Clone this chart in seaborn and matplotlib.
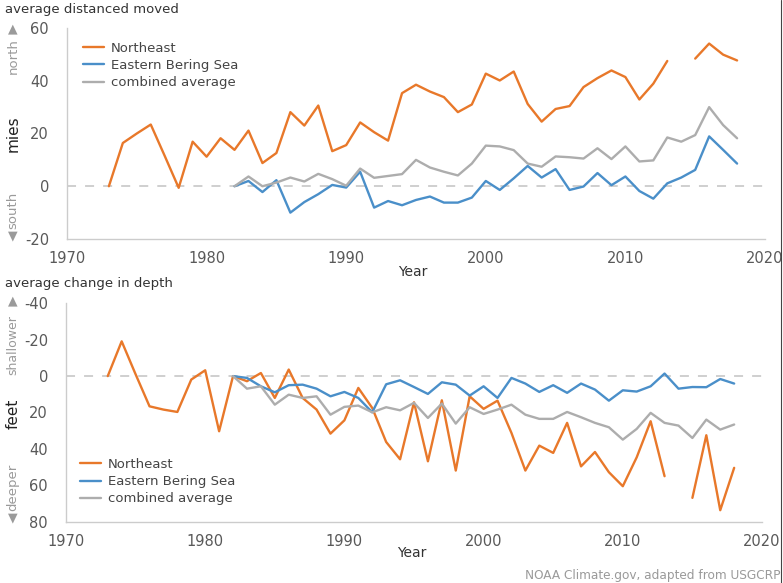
import numpy as np
import pandas as pd
import matplotlib.pyplot as plt
import seaborn as sns
from matplotlib.ticker import MultipleLocator
from matplotlib.lines import Line2D

# Datos (millas y pies por año)
years_ne = list(range(1973, 2019))
years_ebs = list(range(1982, 2019))

ne_dist = [0, 16.4, 20, 23.4, 11.5, -0.6, 16.9, 11.2, 18.2, 13.8,
           21.1, 8.8, 12.6, 28.1, 23, 30.6, 13.3, 15.6, 24.2, 20.5,
           17.3, 35.3, 38.5, 35.9, 33.8, 28.1, 31, 42.7, 40.1, 43.5,
           31.2, 24.5, 29.3, 30.4, 37.6, 41, 43.9, 41.4, 32.9, 38.9,
           47.5, np.nan, 48.4, 54.1, 49.9, 47.7]
ebs_dist = [0, 2.0, -2.2, 2.3, -10, -6, -3, 0.5, -0.5, 5.5,
            -8.1, -5.6, -7.2, -5.2, -3.9, -6.2, -6.2, -4.3, 2.0, -1.4,
            3, 7.7, 3.3, 6.5, -1.4, -0.1, 5, 0.4, 3.7, -1.8,
            -4.7, 1.1, 3.3, 6.2, 18.9, 13.8, 8.6]
comb_dist = [0, 3.7, 0, 1.4, 3.3, 1.8, 4.7, 2.7, 0.2, 6.7,
             3.2, 3.9, 4.6, 10, 7.1, 5.5, 4.1, 8.6, 15.4, 15.1,
             13.7, 8.6, 7.4, 11.3, 11.0, 10.5, 14.4, 10.3, 15.1, 9.4,
             9.8, 18.5, 16.9, 19.4, 30, 23.2, 18.2]

ne_depth = [0, -19.1, -1, 16.6, 18.4, 19.7, 1.9, -3.2, 30.3, 0,
            2.8, -1.7, 12, -3.6, 12, 18.4, 31.6, 24.3, 6.5, 17.5,
            36.2, 45.7, 14.4, 46.8, 13.3, 51.9, 11.1, 18, 13.5, 31.2,
            51.9, 38.2, 42.2, 25.7, 49.6, 41.7, 52.8, 60.5, 44.6, 24.8,
            55, np.nan, 66.9, 32.5, 73.7, 50.4]
ebs_depth = [0, 1.0, 5.6, 8.9, 5, 4.7, 6.9, 11.1, 8.7, 12,
             19.9, 4.5, 2.3, 6.0, 9.8, 3.4, 4.7, 10.7, 5.6, 12,
             1, 4.1, 8.7, 5, 9.2, 4.1, 7.4, 13.5, 7.8, 8.5,
             5.6, -1.4, 6.9, 6, 6.1, 1.6, 4.1]
comb_depth = [0, 6.9, 5.6, 15.7, 10.2, 12, 11.1, 21.2, 16.9, 16.2,
              19.9, 17.1, 18.8, 14.7, 23, 15.1, 26.1, 17.1, 20.8, 18.4,
              15.7, 21.2, 23.5, 23.5, 19.7, 22.6, 25.7, 28.1, 34.9, 29,
              20.2, 25.7, 27.2, 34, 23.9, 29.4, 26.6]

series_names = ["Northeast", "Eastern Bering Sea", "combined average"]
palette = {"Northeast": "#e8782a", "Eastern Bering Sea": "#4a8fc9",
           "combined average": "#adadad"}

TEXT = "#595959"
SPINE = "#cccccc"


def long_df(ne, ebs, comb):
    frames = []
    for name, yrs, vals in zip(series_names, [years_ne, years_ebs, years_ebs], [ne, ebs, comb]):
        d = pd.DataFrame({"year": yrs, "value": vals, "series": name})
        # los huecos (NaN) cortan la linea en segmentos
        d["seg"] = name + d["value"].isna().cumsum().astype(str)
        frames.append(d.dropna())
    return pd.concat(frames, ignore_index=True)


sns.set_style("white")
plt.rcParams["font.family"] = ["DejaVu Sans"]
plt.rcParams["axes.unicode_minus"] = False

fig = plt.figure(figsize=(7.83, 5.83), dpi=100)
ax1 = fig.add_axes([67 / 783, 1 - 239 / 583, 698 / 783, 211 / 583])
ax2 = fig.add_axes([66 / 783, 1 - 521.7 / 583, 696 / 783, 218.4 / 583])

panels = [
    (ax1, long_df(ne_dist, ebs_dist, comb_dist), (-20, 60), (0.023, 0.935)),
    (ax2, long_df(ne_depth, ebs_depth, comb_depth), (80, -40), (0.02, 0.292)),
]

for ax, df, ylim, leg_pos in panels:
    ax.axhline(0, color="#cccccc", lw=1.3, dashes=(5, 5), zorder=1)
    sns.lineplot(data=df, x="year", y="value", hue="series", units="seg",
                 estimator=None, hue_order=series_names, palette=palette,
                 linewidth=1.7, ax=ax)
    ax.set_xlim(1970, 2020)
    ax.set_ylim(*ylim)
    ax.xaxis.set_major_locator(MultipleLocator(10))
    ax.yaxis.set_major_locator(MultipleLocator(20))
    ax.yaxis.set_minor_locator(MultipleLocator(10))
    ax.tick_params(axis="both", which="both", color=SPINE, labelcolor=TEXT,
                   labelsize=10.5, width=1)
    ax.tick_params(axis="y", which="both", length=4, pad=9)
    ax.tick_params(axis="x", length=5, pad=4)
    for s in ["top", "right"]:
        ax.spines[s].set_visible(False)
    for s in ["left", "bottom"]:
        ax.spines[s].set_color(SPINE)
        ax.spines[s].set_linewidth(1)
    ax.set_ylabel("")
    ax.set_xlabel("")
    handles, labels = ax.get_legend_handles_labels()
    ax.legend(handles, labels, loc="upper left", bbox_to_anchor=leg_pos,
              frameon=False, fontsize=9.5, handlelength=1.6, handletextpad=0.5,
              labelspacing=0.32, borderpad=0, borderaxespad=0, labelcolor="#444444")

# titulos y etiquetas
fig.text(5 / 783, 1 - 9 / 583, "average distanced moved", fontsize=9.5,
         color="#333333", va="center", ha="left")
fig.text(5 / 783, 1 - 283 / 583, "average change in depth", fontsize=9.5,
         color="#333333", va="center", ha="left")
fig.text(413 / 783, 1 - 272 / 583, "Year", fontsize=10, color="#333333",
         ha="center", va="center")
fig.text(412 / 783, 1 - 553 / 583, "Year", fontsize=10, color="#333333",
         ha="center", va="center")

side = [
    ("mies", 134, "#222222", 11),
    ("north", 56, "#9a9a9a", 9.5),
    ("south", 210, "#9a9a9a", 9.5),
    ("feet", 414, "#222222", 11),
    ("shallower", 345, "#9a9a9a", 9),
    ("deeper", 487, "#9a9a9a", 9.5),
]
for txt, ypx, col, fs in side:
    fig.text(13 / 783, 1 - ypx / 583, txt, rotation=90, color=col, fontsize=fs,
             ha="center", va="center")

for sym, ypx in [("\u25b2", 29), ("\u25bc", 236), ("\u25b2", 301), ("\u25bc", 518)]:
    fig.text(13 / 783, 1 - ypx / 583, sym, color="#9a9a9a", fontsize=9,
             ha="center", va="center")

fig.text(0.997, 1 - 575 / 583, "NOAA Climate.gov, adapted from USGCRP",
         fontsize=8.7, color="#9a9a9a", ha="right", va="center")

fig.add_artist(Line2D([0.998, 0.998], [0, 1], transform=fig.transFigure,
                      color="#444444", lw=0.8))

fig.savefig("out.png", dpi=100)
plt.close(fig)
